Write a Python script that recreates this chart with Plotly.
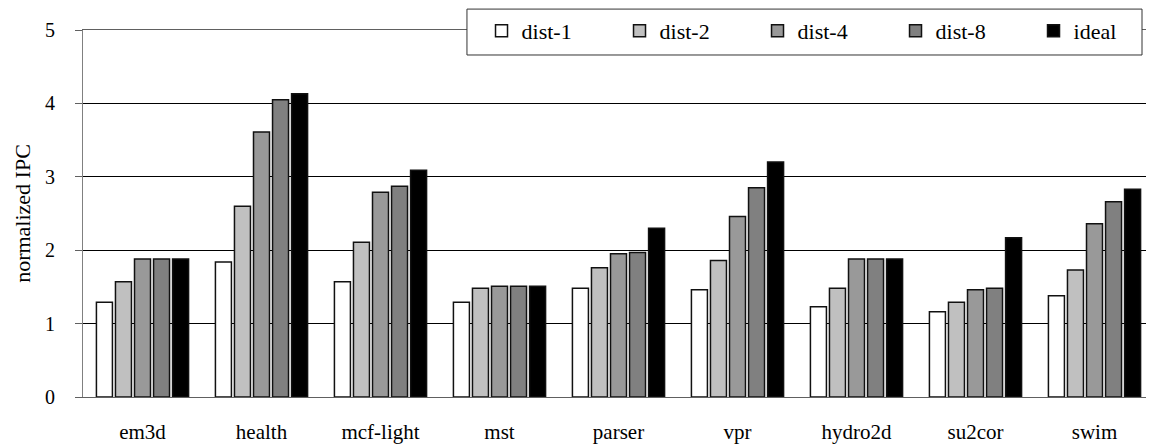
import plotly.graph_objects as go

categories = ["em3d", "health", "mcf-light", "mst", "parser", "vpr", "hydro2d", "su2cor", "swim"]
series_names = ["dist-1", "dist-2", "dist-4", "dist-8", "ideal"]
dist1 = [1.29, 1.84, 1.57, 1.29, 1.48, 1.46, 1.23, 1.16, 1.38]
dist2 = [1.57, 2.60, 2.11, 1.48, 1.76, 1.86, 1.48, 1.29, 1.73]
dist4 = [1.88, 3.61, 2.79, 1.51, 1.95, 2.46, 1.88, 1.46, 2.36]
dist8 = [1.88, 4.05, 2.87, 1.51, 1.97, 2.85, 1.88, 1.48, 2.66]
ideal = [1.88, 4.13, 3.09, 1.51, 2.30, 3.20, 1.88, 2.17, 2.83]
y_ticks = [0, 1, 2, 3, 4, 5]

series_values = [dist1, dist2, dist4, dist8, ideal]
colors = ["#FFFFFF", "#C0C0C0", "#999999", "#808080", "#000000"]
FONT = "Liberation Serif"

fig = go.Figure()
for name, vals, col in zip(series_names, series_values, colors):
    fig.add_trace(go.Bar(
        x=categories, y=vals, name=name,
        marker=dict(color=col, line=dict(color="#111111", width=1.5)),
    ))

# legend frame (drawn as a paper-referenced box behind the legend entries)
fig.add_shape(
    type="rect", xref="paper", yref="paper",
    x0=0.3585, x1=0.9888, y0=0.9319, y1=1.057,
    fillcolor="white", line=dict(color="#333333", width=1), layer="above",
)

fig.update_layout(
    width=1146, height=437,
    margin=dict(l=75, r=0, t=22, b=48, autoexpand=False),
    paper_bgcolor="white", plot_bgcolor="white",
    barmode="group", bargap=0.2, bargroupgap=0.16,
    font=dict(family=FONT, color="black", size=20),
    showlegend=True,
    legend=dict(
        orientation="h", x=0.3721, xanchor="left", y=0.9973, yanchor="middle",
        bgcolor="rgba(0,0,0,0)", borderwidth=0,
        font=dict(family=FONT, size=22, color="black"),
        entrywidth=93, entrywidthmode="pixels",
        itemclick=False, itemdoubleclick=False,
    ),
    xaxis=dict(
        showline=True, linecolor="#606060", linewidth=1, mirror=True,
        ticks="", showgrid=False, tickfont=dict(size=21, family=FONT),
        ticklabelstandoff=16,
    ),
    yaxis=dict(
        range=[0, 5], tickvals=y_ticks, showline=True, linecolor="#808080", linewidth=1,
        ticks="outside", ticklen=7, tickcolor="#606060",
        showgrid=True, gridcolor="black", gridwidth=1, zeroline=False,
        tickfont=dict(size=20, family=FONT), ticklabelstandoff=16,
        title=dict(text="normalized IPC", font=dict(size=22, family=FONT), standoff=8),
    ),
)

fig.write_html("out.html")
